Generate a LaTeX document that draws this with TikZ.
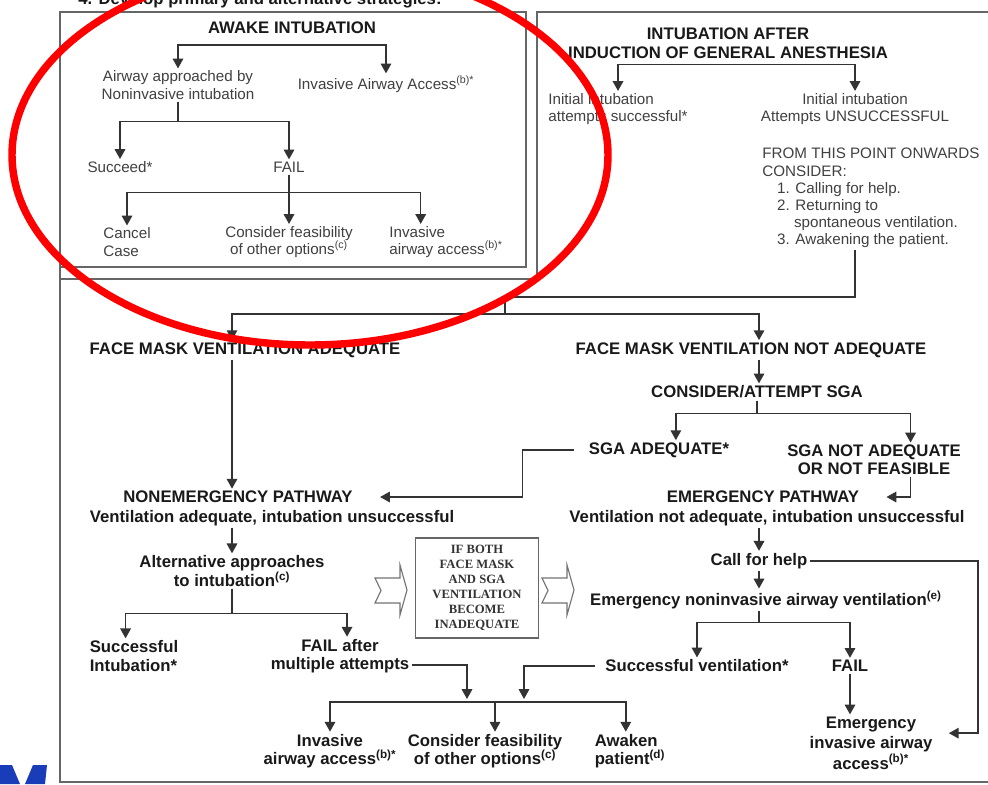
\documentclass[tikz,border=0pt]{standalone}
\usepackage{fontspec}
\setmainfont{Liberation Sans}
\newfontfamily\boxserif{Liberation Serif}
\usetikzlibrary{arrows.meta}
\definecolor{logoblue}{RGB}{25,60,185}
\begin{document}
\begin{tikzpicture}[x=0.25mm, y=-0.25mm,
  ln/.style={draw=black!80, line width=1.1pt},
  arr/.style={ln, -{Triangle[width=7.5pt,length=7pt]}},
  frm/.style={draw=black!60, line width=1.4pt},
  blk/.style={draw=black!55, line width=0.8pt, fill=white},
  tx/.style={font=\fontsize{10.8}{12.2}\selectfont, text=black!75, align=center, inner sep=1.5pt},
  hd/.style={font=\fontsize{11.9}{13}\selectfont\bfseries, text=black!90, align=center, inner sep=1.5pt},
  ifbox/.style={draw=black!60, line width=1pt, minimum width=30.8mm, minimum height=25mm,
    font=\boxserif\bfseries\fontsize{9}{10.7}\selectfont, text=black!80, align=center}]

\useasboundingbox (0,0) rectangle (988,784);

\draw[frm] (60,267) -- (526,267) -- (526,12) -- (60,12) -- (60,782) -- (990,782);
\draw[frm] (60,279) -- (537,279) -- (537,12) -- (990,12);

\node[hd, anchor=base] (hdr) at (260,4) {4. Develop primary and alternative strategies:};

\node[hd] (awake) at (292,28) {AWAKE INTUBATION};
\node[tx] (airway) at (178,85) {Airway approached by\\Noninvasive intubation};
\node[tx] (invA) at (386,84) {Invasive Airway Access\textsuperscript{(b)*}};
\node[tx] (succ) at (120,167) {Succeed*};
\node[tx] (failA) at (289,167) {FAIL};
\node[tx, align=left] (cancel) at (127,242) {Cancel\\Case};
\node[tx] (consA) at (289,242) {Consider feasibility\\of other options\textsuperscript{(c)}};
\node[tx, align=left] (invA2) at (446,242) {Invasive\\airway access\textsuperscript{(b)*}};

\draw[arr] ([yshift=-6pt]awake.south) -| (airway.north);
\draw[arr] ([yshift=-6pt]awake.south) -| (invA.north);
\draw[arr] (airway.south) -- ++(0,20) -| (succ.north);
\draw[arr] (airway.south) -- ++(0,20) -| (failA.north);
\draw[arr] (failA.south) -- ++(0,18) -| (cancel.north);
\draw[arr] (failA.south) -- (consA.north);
\draw[arr] (failA.south) -- ++(0,18) -| ([xshift=-18pt]invA2.north);

\node[hd, font=\fontsize{11.9}{13.5}\selectfont\bfseries] (title2) at (728,43) {INTUBATION AFTER\\INDUCTION OF GENERAL ANESTHESIA};
\node[tx, align=left] (initS) at (618,109) {Initial intubation\\attempts successful*};
\node[tx] (initU) at (855,109) {Initial intubation\\Attempts UNSUCCESSFUL};
\node[tx, align=left, anchor=north west] (cons) at (760,146) {FROM THIS POINT ONWARDS\\CONSIDER:\\
  \hspace*{10.5pt}1. Calling for help.\\\hspace*{10.5pt}2. Returning to\\
  \hspace*{22.5pt}spontaneous ventilation.\\\hspace*{10.5pt}3. Awakening the patient.};

\draw[arr] ([yshift=-2.5pt]title2.south) -| (initS.north);
\draw[arr] ([yshift=-2.5pt]title2.south) -| (initU.north);

\coordinate (j1) at (505,297);
\coordinate (j2) at (505,314);

\node[hd] (fmA) at (245,350) {FACE MASK VENTILATION ADEQUATE};
\node[hd] (fmN) at (751,350) {FACE MASK VENTILATION NOT ADEQUATE};
\node[hd] (sgaC) at (757,392) {CONSIDER/ATTEMPT SGA};
\node[hd] (sgaA) at (659,450) {SGA ADEQUATE*};
\node[hd] (sgaN) at (874,460) {SGA NOT ADEQUATE\\OR NOT FEASIBLE};
\node[hd] (nonT) at (238,497) {NONEMERGENCY PATHWAY};
\node[hd] (nonS) at (272,518) {Ventilation adequate, intubation unsuccessful};
\node[hd] (emgT) at (763,497) {EMERGENCY PATHWAY};
\node[hd] (emgS) at (767,518) {Ventilation not adequate, intubation unsuccessful};
\node[hd] (alt) at (232,571) {Alternative approaches\\to intubation\textsuperscript{(c)}};
\node[hd, align=left] (succI) at (134,656) {Successful\\Intubation*};
\node[hd] (failM) at (340,656) {FAIL after\\multiple attempts};
\node[hd] (invB) at (330,751) {Invasive\\airway access\textsuperscript{(b)*}};
\node[hd] (consB) at (485,751) {Consider feasibility\\of other options\textsuperscript{(c)}};
\node[hd, align=left] (awk) at (630,751) {Awaken\\patient\textsuperscript{(d)}};
\node[hd] (call) at (759,561) {Call for help};
\node[hd] (env) at (766,600) {Emergency noninvasive airway ventilation\textsuperscript{(e)}};
\node[hd] (sv) at (697,666) {Successful ventilation*};
\node[hd] (failE) at (850,666) {FAIL};
\node[hd, font=\fontsize{11.9}{14.5}\selectfont\bfseries] (eia) at (871,743) {Emergency\\invasive airway\\access\textsuperscript{(b)*}};

\node[ifbox] (ifb) at (477,588) {IF BOTH\\FACE MASK\\AND SGA\\VENTILATION\\BECOME\\INADEQUATE};
\foreach \x in {375,542}
\draw[blk] (\x,578) -- ++(25,0) -- ++(0,-13) -- ++(7,25) -- ++(-7,25) -- ++(0,-12) -- ++(-25,0) -- ++(6,-12.5) -- cycle;

\draw[ln] (initU |- cons.south) |- (j1) -- (j2);
\draw[arr] (j2) -| (fmA.north -| alt);
\draw[arr] (j2) -| (fmN.north -| call);
\draw[arr] (fmA.south -| alt) -- (nonT.north -| alt);
\draw[arr] (fmN.south -| call) -- (sgaC.north -| call);
\draw[arr] (sgaC.south) -- ++(0,13) -| ([xshift=12pt]sgaA.north);
\draw[arr] (sgaC.south) -- ++(0,13) -| ([xshift=26pt]sgaN.north);
\draw[arr, shorten >=17.8pt] ([xshift=26pt]sgaN.south) |- (emgT.east);
\draw[arr, shorten <=9pt, shorten >=17.8pt] (sgaA.west) -- ++(-64,0) |- (nonT.east);

\draw[arr] (nonS.south -| alt) -- (alt.north);
\draw[arr] (alt.south) -- ++(0,25) -| ([xshift=-6pt]succI.north);
\draw[arr] (alt.south) -- ++(0,25) -| ([xshift=5pt]failM.north);

\coordinate (bar) at (495,702);
\coordinate (in1) at (467,699);
\coordinate (in2) at (524,699);
\draw[arr] ([yshift=-6.5pt]failM.east) -| (in1);
\draw[arr, shorten <=6pt] (sv.west) -| (in2);
\draw[arr] (bar) -| (invB.north);
\draw[arr] (bar) -- (consB.north -| bar);
\draw[arr] (bar) -| ([xshift=-3pt]awk.north);

\draw[arr] (emgS.south -| call) -- (call.north);
\draw[arr] (call.south) -- (env.north -| call);
\draw[arr, shorten >=10pt] (call.east) -- ++(168,0) |- ([yshift=7pt]eia.east);
\draw[arr] (env.south -| call) -- ++(0,11) -| (sv.north);
\draw[arr] (env.south -| call) -- ++(0,11) -| (failE.north);
\draw[arr] (failE.south) -- (failE.south |- eia.north);

\fill[logoblue] (0,765) -- (12,765) -- (20,784) -- (0,784) -- cycle;
\fill[logoblue] (33,765) -- (47,765) -- (45,784) -- (25,784) -- cycle;

\draw[red, line width=5.3pt] (310,155) ellipse [x radius=298, y radius=190];

\end{tikzpicture}
\end{document}
